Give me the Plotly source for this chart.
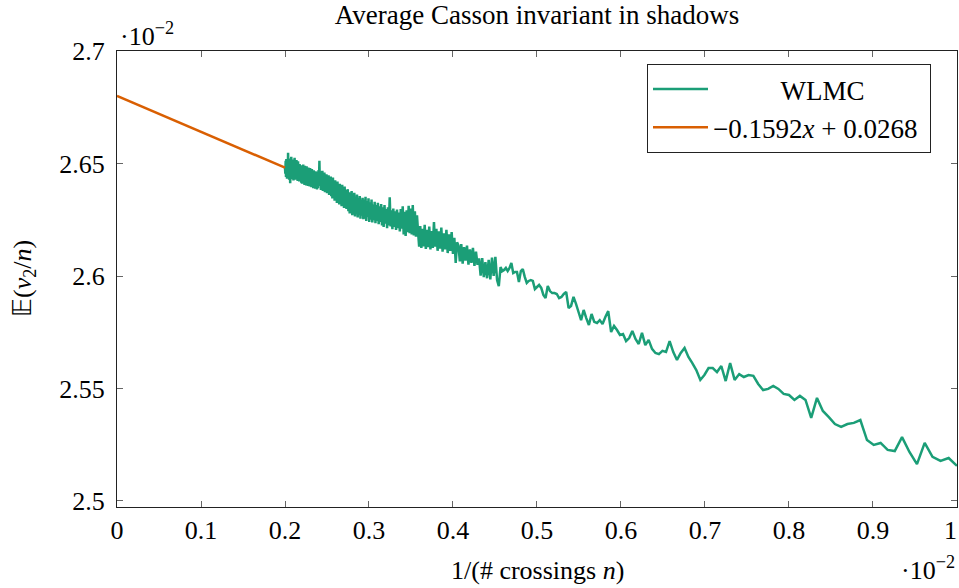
import plotly.graph_objects as go

# ---------------- data ----------------
# number of crossings n (x-axis shows 1/n)
crossings = list(range(500, 99, -1))

# E(v2/n) in units of 1e-2, ordered n = 500, 499, ..., 100 (rows of ten)
wlmc_e2 = [
    2.6480, 2.6455, 2.6512, 2.6440, 2.6520, 2.6462, 2.6432, 2.6505, 2.6445, 2.6548,  # 500-491
    2.6438, 2.6515, 2.6428, 2.6522, 2.6470, 2.6412, 2.6508, 2.6440, 2.6530, 2.6450,  # 490-481
    2.6500, 2.6430, 2.6518, 2.6468, 2.6425, 2.6510, 2.6440, 2.6525, 2.6455, 2.6428,  # 480-471
    2.6505, 2.6435, 2.6515, 2.6445, 2.6495, 2.6422, 2.6510, 2.6438, 2.6488, 2.6420,  # 470-461
    2.6498, 2.6430, 2.6485, 2.6492, 2.6415, 2.6488, 2.6410, 2.6482, 2.6425, 2.6495,  # 460-451
    2.6412, 2.6480, 2.6405, 2.6490, 2.6420, 2.6475, 2.6402, 2.6488, 2.6415, 2.6470,  # 450-441
    2.6400, 2.6482, 2.6412, 2.6468, 2.6398, 2.6480, 2.6408, 2.6462, 2.6395, 2.6475,  # 440-431
    2.6405, 2.6458, 2.6390, 2.6470, 2.6400, 2.6455, 2.6388, 2.6465, 2.6395, 2.6450,  # 430-421
    2.6385, 2.6462, 2.6390, 2.6470, 2.6400, 2.6512, 2.6402, 2.6465, 2.6382, 2.6455,  # 420-411
    2.6392, 2.6468, 2.6378, 2.6450, 2.6385, 2.6460, 2.6372, 2.6445, 2.6380, 2.6452,  # 410-401
    2.6368, 2.6440, 2.6372, 2.6448, 2.6360, 2.6432, 2.6365, 2.6442, 2.6355, 2.6430,  # 400-391
    2.6345, 2.6438, 2.6350, 2.6420, 2.6335, 2.6425, 2.6340, 2.6412, 2.6325, 2.6420,  # 390-381
    2.6330, 2.6405, 2.6318, 2.6410, 2.6325, 2.6398, 2.6310, 2.6405, 2.6318, 2.6390,  # 380-371
    2.6302, 2.6398, 2.6310, 2.6382, 2.6298, 2.6375, 2.6385, 2.6288, 2.6372, 2.6278,  # 370-361
    2.6365, 2.6290, 2.6378, 2.6270, 2.6358, 2.6282, 2.6370, 2.6265, 2.6350, 2.6278,  # 360-351
    2.6362, 2.6260, 2.6345, 2.6272, 2.6355, 2.6255, 2.6340, 2.6268, 2.6348, 2.6252,  # 350-341
    2.6340, 2.6255, 2.6352, 2.6245, 2.6332, 2.6262, 2.6345, 2.6240, 2.6328, 2.6250,  # 340-331
    2.6340, 2.6238, 2.6318, 2.6248, 2.6330, 2.6235, 2.6315, 2.6245, 2.6325, 2.6230,  # 330-321
    2.6310, 2.6240, 2.6320, 2.6225, 2.6305, 2.6218, 2.6315, 2.6232, 2.6298, 2.6212,  # 320-311
    2.6305, 2.6225, 2.6350, 2.6220, 2.6292, 2.6208, 2.6300, 2.6218, 2.6288, 2.6205,  # 310-301
    2.6295, 2.6212, 2.6282, 2.6198, 2.6298, 2.6210, 2.6310, 2.6185, 2.6285, 2.6178,  # 300-291
    2.6292, 2.6195, 2.6312, 2.6190, 2.6300, 2.6185, 2.6315, 2.6180, 2.6288, 2.6175,  # 290-281
    2.6270, 2.6195, 2.6130, 2.6222, 2.6125, 2.6210, 2.6132, 2.6228, 2.6120, 2.6205,  # 280-271
    2.6128, 2.6220, 2.6118, 2.6200, 2.6125, 2.6240, 2.6130, 2.6210, 2.6112, 2.6198,  # 270-261
    2.6122, 2.6215, 2.6108, 2.6190, 2.6118, 2.6205, 2.6102, 2.6185, 2.6112, 2.6195,  # 260-251
    2.6098, 2.6170, 2.6058, 2.6150, 2.6135, 2.6065, 2.6142, 2.6055, 2.6128, 2.6068,  # 250-241
    2.6135, 2.6050, 2.6118, 2.6058, 2.6125, 2.6045, 2.6108, 2.6050, 2.6078, 2.6002,  # 240-231
    2.6080, 2.5995, 2.6062, 2.5990, 2.6072, 2.5985, 2.6082, 2.6000, 2.6085, 2.5982,  # 230-221
    2.5955, 2.6040, 2.6022, 2.6027, 2.6036, 2.6022, 2.6036, 2.6058, 2.6013, 2.6018,  # 220-211
    2.6018, 2.5973, 2.6022, 2.6031, 2.5996, 2.5969, 2.5978, 2.5982, 2.5978, 2.5942,  # 210-201
    2.5951, 2.5960, 2.5947, 2.5916, 2.5902, 2.5956, 2.5933, 2.5924, 2.5924, 2.5920,  # 200-191
    2.5902, 2.5907, 2.5920, 2.5929, 2.5858, 2.5867, 2.5907, 2.5876, 2.5840, 2.5804,  # 190-181
    2.5849, 2.5813, 2.5782, 2.5831, 2.5796, 2.5791, 2.5804, 2.5787, 2.5818, 2.5844,  # 180-171
    2.5751, 2.5778, 2.5760, 2.5738, 2.5742, 2.5711, 2.5724, 2.5756, 2.5720, 2.5698,  # 170-161
    2.5747, 2.5693, 2.5716, 2.5676, 2.5658, 2.5653, 2.5667, 2.5662, 2.5711, 2.5662,  # 160-151
    2.5627, 2.5658, 2.5680, 2.5640, 2.5613, 2.5582, 2.5538, 2.5560, 2.5591, 2.5591,  # 150-141
    2.5573, 2.5600, 2.5533, 2.5613, 2.5538, 2.5564, 2.5551, 2.5560, 2.5556, 2.5520,  # 140-131
    2.5493, 2.5498, 2.5511, 2.5498, 2.5476, 2.5471, 2.5449, 2.5467, 2.5449, 2.5369,  # 130-121
    2.5458, 2.5400, 2.5373, 2.5342, 2.5329, 2.5342, 2.5347, 2.5360, 2.5271, 2.5249,  # 120-111
    2.5258, 2.5227, 2.5222, 2.5284, 2.5218, 2.5164, 2.5258, 2.5196, 2.5178, 2.5191,  # 110-101
    2.5156,                                                                          # 100
]

# linear fit  y = slope * x + intercept, drawn for x in [0, 1/500]
fit_slope = -0.1592
fit_intercept = 0.0268
fit_x_range = [0.0, 1 / 500]

x_tick_vals = [0, 0.001, 0.002, 0.003, 0.004, 0.005, 0.006, 0.007, 0.008, 0.009, 0.01]
x_tick_text = ["0", "0.1", "0.2", "0.3", "0.4", "0.5", "0.6", "0.7", "0.8", "0.9", "1\u00a0\u00a0"]
y_tick_vals = [0.025, 0.0255, 0.026, 0.0265, 0.027]
y_tick_text = ["2.5", "2.55", "2.6", "2.65", "2.7"]

# ---------------- figure ----------------
GREEN = "#1b9e77"
ORANGE = "#d95f02"
FONT = "Liberation Serif"

wlmc_x = [1 / n for n in crossings]
wlmc_y = [v * 1e-2 for v in wlmc_e2]
fit_y = [fit_slope * xv + fit_intercept for xv in fit_x_range]

fig = go.Figure()
fig.add_trace(go.Scatter(
    x=wlmc_x, y=wlmc_y, mode="lines",
    line=dict(color=GREEN, width=2.5, simplify=False),
    name="\u00a0" * 10 + "WLMC",
))
fig.add_trace(go.Scatter(
    x=fit_x_range, y=fit_y, mode="lines",
    line=dict(color=ORANGE, width=2.5),
    name="\u22120.1592<i>x</i> + 0.0268\u00a0",
))

W, H = 959, 588
L, R, T, B = 117, 2, 51, 81
pw, ph = W - L - R, H - T - B

axis_common = dict(
    showline=True, linecolor="#222", linewidth=1.2, mirror="ticks",
    ticks="inside", ticklen=6, tickwidth=1, tickcolor="#666",
    showgrid=False, zeroline=False, ticklabeloverflow="allow", automargin=False,
    tickfont=dict(family=FONT, size=26, color="black"),
)

fig.update_layout(
    width=W, height=H,
    margin=dict(l=L, r=R, t=T, b=B, autoexpand=False),
    paper_bgcolor="white", plot_bgcolor="white",
    font=dict(family=FONT, size=26, color="black"),
    title=dict(text="Average Casson invariant in shadows",
               x=(L + pw / 2) / W, xanchor="center",
               y=1 - 15 / H, yanchor="middle", yref="container",
               font=dict(family=FONT, size=27, color="black")),
    xaxis=dict(range=[0, 0.0100002], tickvals=x_tick_vals, ticktext=x_tick_text,
               ticklabelstandoff=0, **axis_common),
    yaxis=dict(range=[0.0249733, 0.027], tickvals=y_tick_vals, ticktext=y_tick_text,
               ticklabelstandoff=6, **axis_common),
    legend=dict(x=(931 - L) / pw, xanchor="right",
                y=(H - B - 64) / ph, yanchor="top",
                bgcolor="white", bordercolor="#222", borderwidth=1,
                font=dict(family=FONT, size=27, color="black"),
                tracegroupgap=0, itemwidth=55),
    showlegend=True,
)

fig.add_annotation(text="1/(# crossings <i>n</i>)", xref="paper", yref="paper",
                   x=(537 - L) / pw, y=-(570 - (H - B)) / ph,
                   showarrow=False, xanchor="center", yanchor="middle",
                   font=dict(family=FONT, size=26))
fig.add_annotation(text="\U0001D53C(<i>v</i><sub>2</sub>/<i>n</i>)", xref="paper", yref="paper",
                   x=(24 - L) / pw, y=0.5, textangle=-90,
                   showarrow=False, xanchor="center", yanchor="middle",
                   font=dict(family=FONT, size=26))
fig.add_annotation(text="\u00b710<sup>\u22122</sup>", xref="paper", yref="paper",
                   x=(118 - L) / pw, y=(H - B - 34) / ph,
                   showarrow=False, xanchor="left", yanchor="middle",
                   font=dict(family=FONT, size=26))
fig.add_annotation(text="\u00b710<sup>\u22122</sup>", xref="paper", yref="paper",
                   x=1.0, y=-(568 - (H - B)) / ph,
                   showarrow=False, xanchor="right", yanchor="middle",
                   font=dict(family=FONT, size=26))

fig.write_html("out.html")
